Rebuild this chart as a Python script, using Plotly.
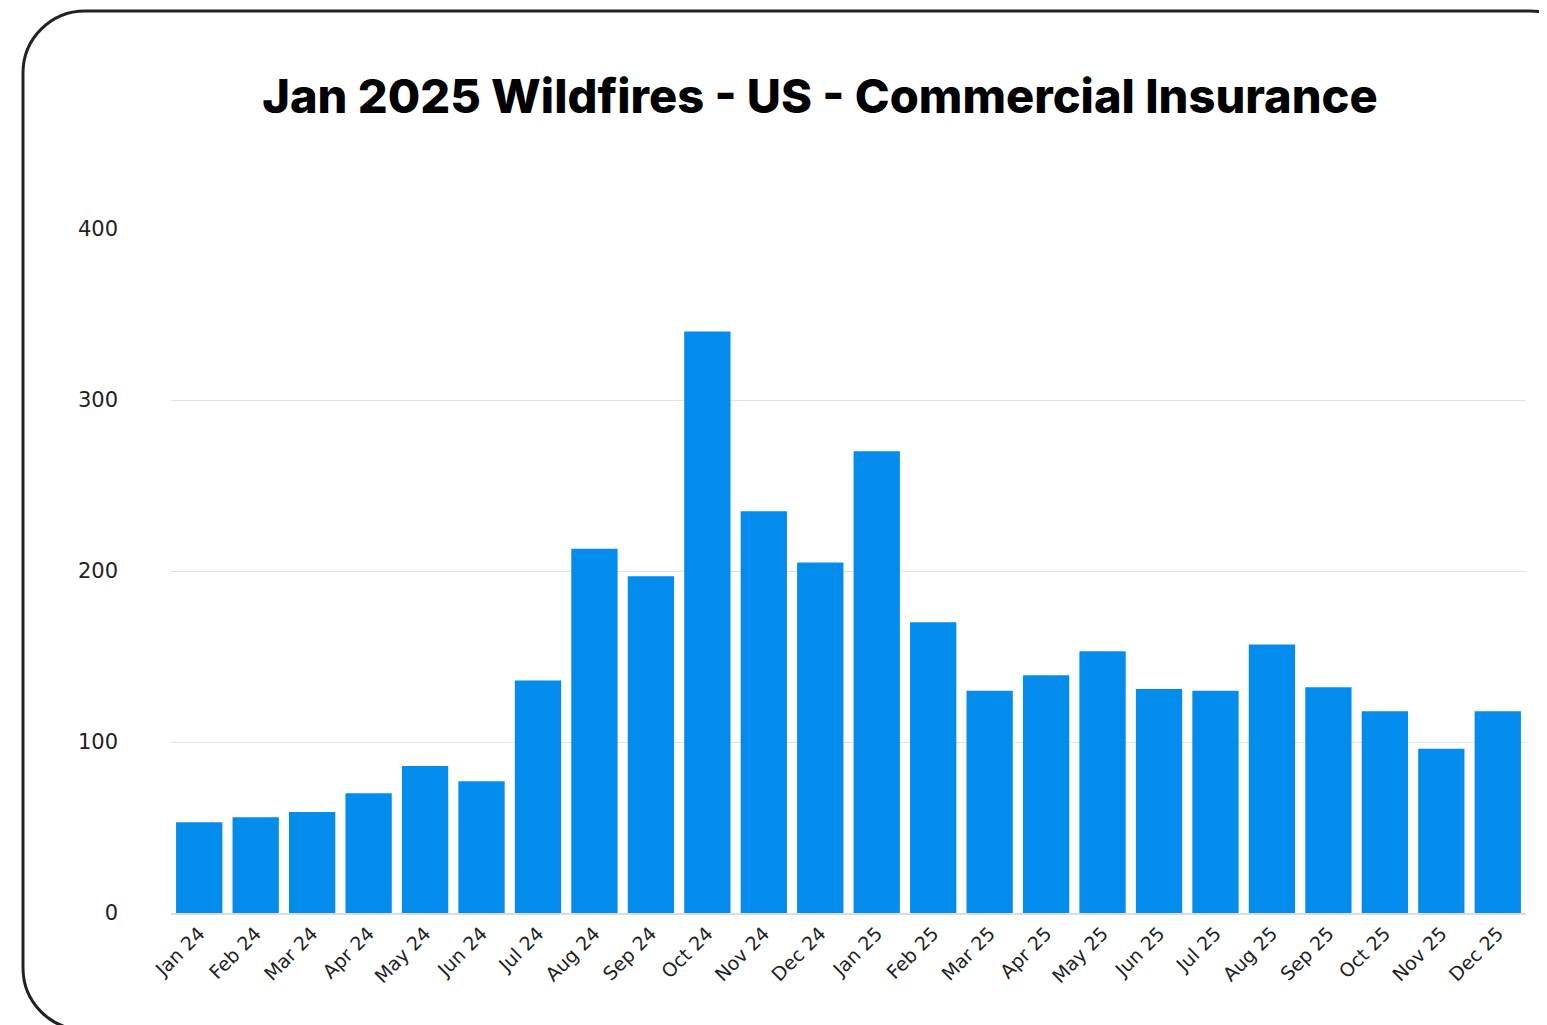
import plotly.graph_objects as go

months = ["Jan 24", "Feb 24", "Mar 24", "Apr 24", "May 24", "Jun 24", "Jul 24", "Aug 24",
          "Sep 24", "Oct 24", "Nov 24", "Dec 24", "Jan 25", "Feb 25", "Mar 25", "Apr 25",
          "May 25", "Jun 25", "Jul 25", "Aug 25", "Sep 25", "Oct 25", "Nov 25", "Dec 25"]
values = [53, 56, 59, 70, 86, 77, 136, 213, 197, 340, 235, 205,
          270, 170, 130, 139, 153, 131, 130, 157, 132, 118, 96, 118]
y_ticks = [0, 100, 200, 300, 400]

W, H = 1547, 1025
OFF = 8  # page body margin
ML, MR, MT, MB = 171 - OFF, 1547 - 1526 + OFF, 229 - OFF, 112 + OFF
PW, PH = W - ML - MR, H - MT - MB


def px(x):
    return (x - OFF - ML) / PW


def py(y):
    return (H - MB - (y - OFF)) / PH


# rounded frame (screen pixel coords converted to paper)
x0, x1, y0, y1, r = 23, 1592, 11, 1030, 62
k = 0.4477
pts = [
    f"M {px(x0)},{py(y0 + r)}",
    f"C {px(x0)},{py(y0 + r * k)} {px(x0 + r * k)},{py(y0)} {px(x0 + r)},{py(y0)}",
    f"L {px(x1 - r)},{py(y0)}",
    f"C {px(x1 - r * k)},{py(y0)} {px(x1)},{py(y0 + r * k)} {px(x1)},{py(y0 + r)}",
    f"L {px(x1)},{py(y1 - r)}",
    f"C {px(x1)},{py(y1 - r * k)} {px(x1 - r * k)},{py(y1)} {px(x1 - r)},{py(y1)}",
    f"L {px(x0 + r)},{py(y1)}",
    f"C {px(x0 + r * k)},{py(y1)} {px(x0)},{py(y1 - r * k)} {px(x0)},{py(y1 - r)}",
    "Z",
]
frame_path = " ".join(pts)

fig = go.Figure()
fig.add_trace(go.Bar(
    x=months, y=values,
    marker=dict(color="#048cec", line=dict(width=0)),
    hoverinfo="x+y",
))

fig.update_layout(
    width=W, height=H,
    margin=dict(l=ML, r=MR, t=MT, b=MB),
    paper_bgcolor="white", plot_bgcolor="white",
    bargap=0.18,
    showlegend=False,
    title=dict(
        text="Jan 2025 Wildfires - US - Commercial Insurance",
        xref="container", yref="container",
        x=(820 - OFF) / W, xanchor="center",
        y=1 - (97 - OFF) / H, yanchor="middle",
        font=dict(family="Inter, Roboto, sans-serif", size=47, color="#000000", weight=800),
    ),
    xaxis=dict(
        tickangle=-45,
        tickfont=dict(family="DejaVu Sans, sans-serif", size=19, color="#222222"),
        showgrid=False,
        showline=True, linecolor="#dcdcdc", linewidth=2,
        ticks="",
        fixedrange=True,
    ),
    yaxis=dict(
        range=[0, 400],
        tickvals=y_ticks,
        tickfont=dict(family="DejaVu Sans, sans-serif", size=21, color="#222222"),
        showgrid=True, gridcolor="#e2e2e2", gridwidth=1,
        zeroline=False,
        ticks="",
        ticklabelstandoff=52,
        fixedrange=True,
    ),
    shapes=[dict(
        type="path", path=frame_path, xref="paper", yref="paper",
        line=dict(color="#222222", width=3), fillcolor="rgba(0,0,0,0)", layer="above",
    )],
)

fig.write_html("out.html")
